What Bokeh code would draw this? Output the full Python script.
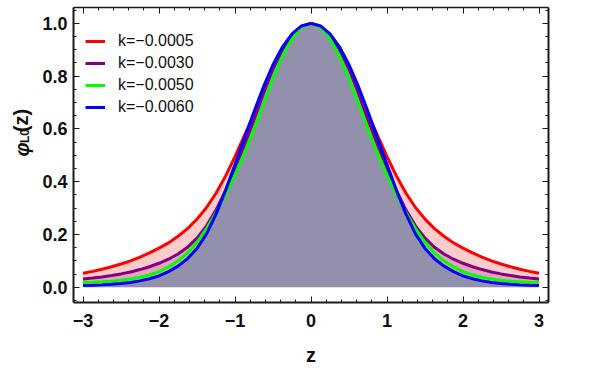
import math
import numpy as np
from bokeh.plotting import figure
from bokeh.layouts import row
from bokeh.models import (LinearAxis, FixedTicker, Range1d, Legend,
                          LegendItem, PrintfTickFormatter)
from bokeh.core.properties import value
from bokeh.embed import file_html
from bokeh.resources import INLINE

# ---- data (curves are symmetric in z) ----
z_half = [0.0, 0.125, 0.25, 0.375, 0.5, 0.625, 0.75, 0.875, 1.0, 1.125, 1.25,
          1.375, 1.5, 1.625, 1.75, 1.875, 2.0, 2.125, 2.25, 2.375, 2.5,
          2.625, 2.75, 2.875, 3.0]

phi_k0005_half = [1.000, 0.989, 0.958, 0.910, 0.840, 0.750, 0.655, 0.575, 0.495,
                  0.421, 0.356, 0.302, 0.258, 0.222, 0.193, 0.168, 0.148, 0.130,
                  0.114, 0.100, 0.088, 0.0775, 0.068, 0.060, 0.053]

phi_k0030_half = [1.000, 0.988, 0.953, 0.900, 0.828, 0.735, 0.635, 0.540, 0.452,
                  0.3655, 0.292, 0.2325, 0.186, 0.1515, 0.1256, 0.106, 0.0907,
                  0.0776, 0.0668, 0.0578, 0.0504, 0.0442, 0.039, 0.0346, 0.0307]

phi_k0050_half = [1.000, 0.985, 0.942, 0.876, 0.792, 0.695, 0.598, 0.508, 0.425,
                  0.350, 0.282, 0.222, 0.170, 0.130, 0.100, 0.0775, 0.059,
                  0.0465, 0.0375, 0.031, 0.026, 0.0228, 0.0205, 0.019, 0.018]

phi_k0060_half = [1.000, 0.990, 0.960, 0.910, 0.843, 0.760, 0.665, 0.565, 0.465,
                  0.366, 0.277, 0.202, 0.147, 0.108, 0.080, 0.059, 0.043,
                  0.032, 0.024, 0.018, 0.0138, 0.0108, 0.0088, 0.0073, 0.006]

series_labels = ["k=\u22120.0005", "k=\u22120.0030", "k=\u22120.0050", "k=\u22120.0060"]
series_colors = ["#ff0000", "#800080", "#00ff00", "#0000ff"]
series_half = [phi_k0005_half, phi_k0030_half, phi_k0050_half, phi_k0060_half]

x_ticks = [-3, -2, -1, 0, 1, 2, 3]
x_tick_labels = ["\u22123", "\u22122", "\u22121", "0", "1", "2", "3"]
y_ticks = [0.0, 0.2, 0.4, 0.6, 0.8, 1.0]


def mirror(half):
    return list(reversed(half[1:])) + list(half)


z = [-v for v in reversed(z_half[1:])] + list(z_half)
series_values = [mirror(h) for h in series_half]

FONT = "Liberation Sans"
TXT = "#111111"
H = 368

p = figure(width=557, height=H,
           x_range=Range1d(-3.125, 3.125), y_range=Range1d(-0.058, 1.06),
           output_backend="svg", toolbar_location=None,
           min_border_left=38, min_border_right=44,
           min_border_top=7, min_border_bottom=66)
p.grid.visible = False
p.outline_line_color = None

for vals, col in zip(series_values, series_colors):
    p.varea(x=z, y1=0, y2=vals, fill_color=col, fill_alpha=0.2)

renderers = []
for vals, col in zip(series_values, series_colors):
    renderers.append(p.line(z, vals, line_color=col, line_width=3))

x_minor = [round(v, 3) for v in np.arange(-3.0, 3.01, 0.2) if abs(v - round(v)) > 1e-6]
y_minor = [round(v, 3) for v in np.arange(-0.05, 1.051, 0.05)]

AX_COL = "#1a1a1a"


def style_axis(ax):
    ax.axis_line_color = AX_COL
    ax.axis_line_width = 2
    ax.major_tick_line_color = AX_COL
    ax.minor_tick_line_color = AX_COL
    ax.major_tick_line_width = 1
    ax.minor_tick_line_width = 1
    ax.major_tick_in = 6
    ax.major_tick_out = 0
    ax.minor_tick_in = 3
    ax.minor_tick_out = 0
    ax.major_label_text_font = FONT
    ax.major_label_text_font_style = "bold"
    ax.major_label_text_font_size = "18px"
    ax.major_label_text_color = TXT


xa = p.xaxis[0]
xa.ticker = FixedTicker(ticks=x_ticks, minor_ticks=x_minor)
xa.major_label_overrides = {t: lab for t, lab in zip(x_ticks, x_tick_labels)}
style_axis(xa)
xa.major_label_standoff = 11
xa.axis_label = "z"
xa.axis_label_text_font = FONT
xa.axis_label_text_font_style = "bold"
xa.axis_label_text_font_size = "20px"
xa.axis_label_text_color = TXT
xa.axis_label_standoff = 14

ya = p.yaxis[0]
ya.ticker = FixedTicker(ticks=y_ticks, minor_ticks=y_minor)
ya.formatter = PrintfTickFormatter(format="%.1f")
style_axis(ya)
ya.major_label_standoff = 6

top = LinearAxis(ticker=FixedTicker(ticks=x_ticks, minor_ticks=x_minor),
                 major_label_overrides={t: "" for t in x_ticks})
style_axis(top)
top.major_label_standoff = 0
top.axis_line_width = 1.5
p.add_layout(top, "above")

right = LinearAxis(ticker=FixedTicker(ticks=y_ticks, minor_ticks=y_minor),
                   major_label_overrides={t: "" for t in y_ticks})
style_axis(right)
right.major_label_standoff = 0
p.add_layout(right, "right")

legend = Legend(items=[LegendItem(label=lab, renderers=[r])
                       for lab, r in zip(series_labels, renderers)],
                location=(12, 185), padding=0, margin=0, spacing=2,
                glyph_width=20, glyph_height=20, label_height=20,
                label_standoff=13, border_line_color=None,
                background_fill_alpha=0.0,
                label_text_font=FONT, label_text_font_size="16px",
                label_text_color=TXT)
p.add_layout(legend)

# ---- narrow panel holding the rotated y-axis title  phi_L0(z) ----
lab_w = 35
q = figure(width=lab_w, height=H, x_range=Range1d(0, lab_w), y_range=Range1d(0, H),
           output_backend="svg", toolbar_location=None,
           x_axis_location=None, y_axis_location=None, min_border=0)
q.grid.visible = False
q.outline_line_color = None
q.text(x=[21], y=[H - 186], text=["\u03c6"], angle=math.pi / 2,
       text_align="left", text_baseline="middle",
       text_font=value(FONT), text_font_style="bold italic",
       text_font_size="20px", text_color=TXT)
q.text(x=[24], y=[H - 169], text=["L0"], angle=math.pi / 2,
       text_align="left", text_baseline="middle",
       text_font=value(FONT), text_font_style="bold",
       text_font_size="12px", text_color=TXT)
q.text(x=[20], y=[H - 155.5], text=["(z)"], angle=math.pi / 2,
       text_align="left", text_baseline="middle",
       text_font=value(FONT), text_font_style="bold",
       text_font_size="20px", text_color=TXT)

layout = row(q, p, spacing=0)
open("out.html", "w").write(file_html(layout, INLINE))
